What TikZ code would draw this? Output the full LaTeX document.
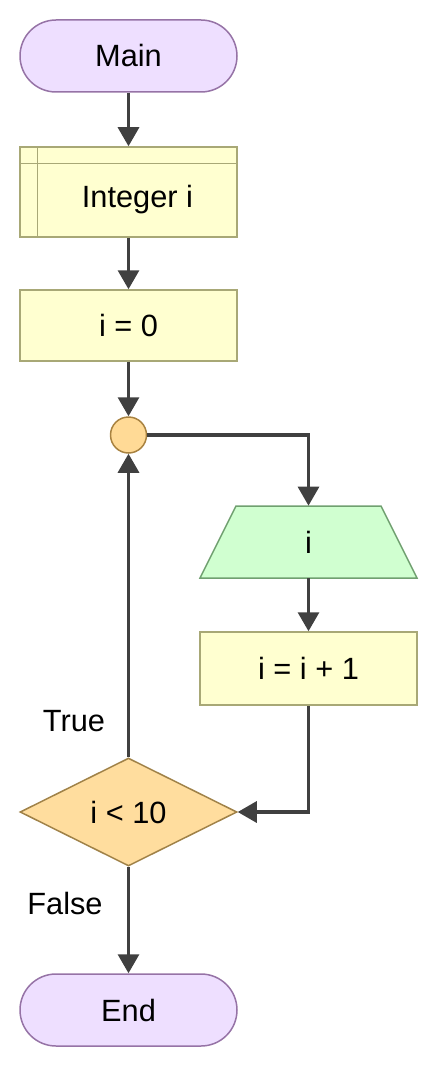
\documentclass[tikz,border=0pt]{standalone}
\usepackage{fontspec}
\setmainfont{Liberation Sans}
\usetikzlibrary{arrows.meta,shapes.geometric,calc}
\definecolor{termfill}{RGB}{238,223,255}
\definecolor{termline}{RGB}{150,115,166}
\definecolor{procfill}{RGB}{255,255,208}
\definecolor{procline}{RGB}{168,168,118}
\definecolor{joinfill}{RGB}{255,218,150}
\definecolor{joinline}{RGB}{168,130,64}
\definecolor{outfill}{RGB}{208,255,208}
\definecolor{outline}{RGB}{112,160,112}
\definecolor{decfill}{RGB}{255,221,158}
\definecolor{decline}{RGB}{160,130,72}
\definecolor{flow}{RGB}{64,64,64}

\begin{document}
\begin{tikzpicture}[>={Triangle[length=0.38cm,width=0.42cm]},
  every node/.style={font=\fontsize{17.5}{21}\selectfont},
  terminal/.style={draw=termline,fill=termfill,line width=0.85pt,rounded corners=0.72cm,minimum width=4.34cm,minimum height=1.44cm},
  process/.style={draw=procline,fill=procfill,line width=0.85pt,minimum width=4.34cm,minimum height=1.44cm},
  flowline/.style={draw=flow,line width=1.8pt,->}]
  \useasboundingbox (0,0) rectangle (8.74,-21.34);
  \node[terminal] (main) at (2.57,-1.12){Main};
  \node[process,minimum height=1.8cm] (decl) at (2.57,-3.84){};
  \draw[procline,line width=0.85pt] ([xshift=0.36cm]decl.north west)--([xshift=0.36cm]decl.south west);
  \draw[procline,line width=0.85pt] ([yshift=-0.34cm]decl.north west)--([yshift=-0.34cm]decl.north east);
  \node (decltext) at (2.75,-4.0){Integer i};
  \node[process,minimum height=1.42cm] (init) at (2.57,-6.51){i = 0};
  \node[circle,draw=joinline,fill=joinfill,line width=0.85pt,minimum size=0.72cm,inner sep=0] (join) at (2.57,-8.70){};
  % output box: trapezoid drawn round an invisible node
  \coordinate (showc) at (6.17,-10.84);
  \draw[outline,fill=outfill,line width=0.85pt] ($(showc)+(-2.17,-0.72)$)--($(showc)+(2.17,-0.72)$)--($(showc)+(1.45,0.72)$)--($(showc)+(-1.45,0.72)$)--cycle;
  \node[minimum width=4.34cm,minimum height=1.44cm,inner sep=0] (show) at (showc){i};
  \node[process,minimum height=1.46cm] (incr) at (6.17,-13.37){i = i + 1};
  \node[diamond,draw=decline,fill=decfill,line width=0.85pt,minimum width=4.34cm,minimum height=2.16cm,inner sep=0] (test) at (2.57,-16.24){i < 10};
  \node[terminal] (stop) at (2.57,-20.2){End};
  \node (truelbl) at (1.48,-14.42){True};
  \node (falselbl) at (1.3,-18.06){False};
  \draw[flowline] (main)--(decl);
  \draw[flowline] (decl)--(init);
  \draw[flowline] (init)--(join);
  \draw[flowline] (join.east)-|(show.north);
  \draw[flowline] (show)--(incr);
  \draw[flowline] (incr.south)|-(test.east);
  \draw[flowline] (test.north)--(join.south);
  \draw[flowline] (test.south)--(stop.north);
\end{tikzpicture}
\end{document}
